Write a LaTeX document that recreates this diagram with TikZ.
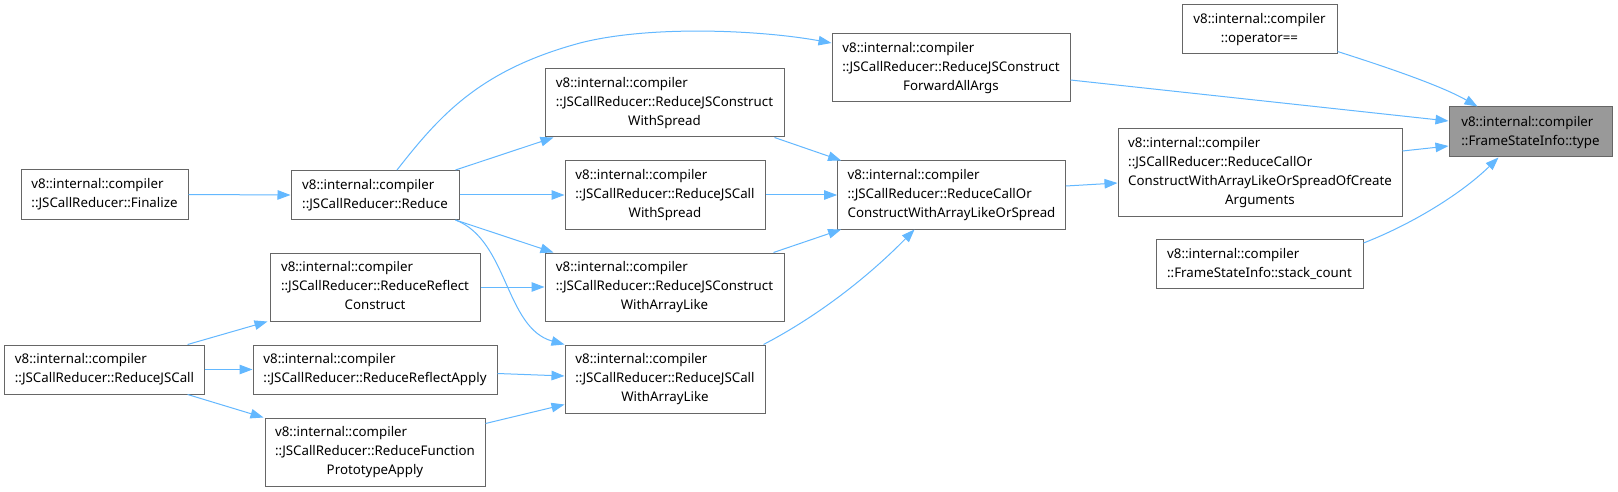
\documentclass[tikz,border=0pt]{standalone}
\usepackage{fontspec}
\setmainfont{Noto Sans}
\usetikzlibrary{arrows.meta}
\definecolor{edgeblue}{HTML}{63B8FF}
\definecolor{boxborder}{HTML}{666666}
\definecolor{hilite}{HTML}{999999}
\newcommand{\labII}[2]{\begin{tabular}{@{}l@{}}#1\\\multicolumn{1}{@{}c@{}}{#2}\end{tabular}}
\newcommand{\labIII}[3]{\begin{tabular}{@{}l@{}}#1\\#2\\\multicolumn{1}{@{}c@{}}{#3}\end{tabular}}
\newcommand{\labIV}[4]{\begin{tabular}{@{}l@{}}#1\\#2\\#3\\\multicolumn{1}{@{}c@{}}{#4}\end{tabular}}
\tikzset{
  fn/.style={draw=boxborder, line width=1pt, fill=white, inner xsep=10pt, inner ysep=5.5pt,
    font=\fontsize{13.3}{19}\selectfont, text=black},
  cur/.style={fn, fill=hilite},
  e/.style={draw=edgeblue, line width=1pt, -{Triangle[length=13pt,width=9.5pt]}}
}
\begin{document}
\begin{tikzpicture}[x=1pt,y=-1pt]
\useasboundingbox (0,0) rectangle (1618,492);
\fill[white] (0,0) rectangle (1618,492);
% nodes
\node[fn, minimum width=167pt, minimum height=49pt] (fin) at (104.5,194.5) {\labII{v8::internal::compiler}{::JSCallReducer::Finalize}};
\node[fn, minimum width=168pt, minimum height=49pt] (red) at (375,195) {\labII{v8::internal::compiler}{::JSCallReducer::Reduce}};
\node[fn, minimum width=239pt, minimum height=68pt] (cws) at (664.5,103) {\labIII{v8::internal::compiler}{::JSCallReducer::ReduceJSConstruct}{WithSpread}};
\node[fn, minimum width=200pt, minimum height=68pt] (cls) at (665,195) {\labIII{v8::internal::compiler}{::JSCallReducer::ReduceJSCall}{WithSpread}};
\node[fn, minimum width=239pt, minimum height=68pt] (cwa) at (664.5,287) {\labIII{v8::internal::compiler}{::JSCallReducer::ReduceJSConstruct}{WithArrayLike}};
\node[fn, minimum width=200pt, minimum height=68pt] (cla) at (665,379) {\labIII{v8::internal::compiler}{::JSCallReducer::ReduceJSCall}{WithArrayLike}};
\node[fn, minimum width=210pt, minimum height=68pt] (rrc) at (375,287) {\labIII{v8::internal::compiler}{::JSCallReducer::ReduceReflect}{Construct}};
\node[fn, minimum width=199pt, minimum height=49pt] (rjc) at (104.5,369.5) {\labII{v8::internal::compiler}{::JSCallReducer::ReduceJSCall}};
\node[fn, minimum width=244pt, minimum height=49pt] (rra) at (375,369.5) {\labII{v8::internal::compiler}{::JSCallReducer::ReduceReflectApply}};
\node[fn, minimum width=220pt, minimum height=68pt] (rfp) at (375,452) {\labIII{v8::internal::compiler}{::JSCallReducer::ReduceFunction}{PrototypeApply}};
\node[fn, minimum width=238pt, minimum height=68pt] (fwd) at (951,68) {\labIII{v8::internal::compiler}{::JSCallReducer::ReduceJSConstruct}{ForwardAllArgs}};
\node[fn, minimum width=227pt, minimum height=68pt] (coc) at (951.5,195) {\labIII{v8::internal::compiler}{::JSCallReducer::ReduceCallOr}{ConstructWithArrayLikeOrSpread}};
\node[fn, minimum width=284pt, minimum height=87pt] (oca) at (1260,172.5) {\labIV{v8::internal::compiler}{::JSCallReducer::ReduceCallOr}{ConstructWithArrayLikeOrSpreadOfCreate}{Arguments}};
\node[fn, minimum width=155pt, minimum height=49pt] (op) at (1259.5,29.5) {\labII{v8::internal::compiler}{::operator==}};
\node[fn, minimum width=207pt, minimum height=49pt] (sc) at (1259.5,264) {\labII{v8::internal::compiler}{::FrameStateInfo::stack\_count}};
\node[cur, minimum width=163pt, minimum height=50pt] (type) at (1530.5,132) {\labII{v8::internal::compiler}{::FrameStateInfo::type}};
% edges
\draw[e] (fin.east) -- (red.west);
\draw[e] ([xshift=22pt]red.north) .. controls (440,115) and (480,70) .. (580,43) .. controls (650,25) and (760,30) .. ([yshift=25pt]fwd.west);
\draw[e] ([xshift=-4pt]red.north east) -- ([xshift=9pt]cws.south west);
\draw[e] (red.east) -- (cls.west);
\draw[e] ([xshift=-4pt]red.south east) -- ([xshift=9pt]cwa.north west);
\draw[e] ([xshift=-4pt]red.south east) .. controls (508,240) and (505,328) .. (cla.north west);
\draw[e] (rrc.east) -- (cwa.west);
\draw[e] ([xshift=-17pt]rjc.north east) -- ([xshift=-2pt]rrc.south west);
\draw[e] (rjc.east) -- (rra.west);
\draw[e] ([xshift=-17pt]rjc.south east) -- ([xshift=-1pt]rfp.north west);
\draw[e] ([yshift=-4pt]rra.east) -- ([yshift=3pt]cla.west);
\draw[e] ([yshift=-6pt]rfp.north east) -- ([yshift=9pt]cla.south west);
\draw[e] ([xshift=-10pt]cws.south east) -- ([xshift=4pt]coc.north west);
\draw[e] (cls.east) -- (coc.west);
\draw[e] ([xshift=-11pt]cwa.north east) -- ([xshift=4pt]coc.south west);
\draw[e] ([xshift=-2pt]cla.north east) .. controls (820,315) and (870,275) .. ([xshift=-37pt]coc.south);
\draw[e] ([yshift=9pt]coc.east) -- ([yshift=-10.5pt]oca.west);
\draw[e] ([yshift=-12pt]fwd.east) -- ([yshift=11pt]type.west);
\draw[e] ([yshift=3pt]op.south east) .. controls (1380,65) and (1440,85) .. ([xshift=29pt]type.north west);
\draw[e] ([yshift=21.5pt]oca.east) -- ([yshift=-14pt]type.west);
\draw[e] ([yshift=-4pt]sc.north east) .. controls (1410,225) and (1460,195) .. ([xshift=50pt]type.south west);
\end{tikzpicture}
\end{document}
